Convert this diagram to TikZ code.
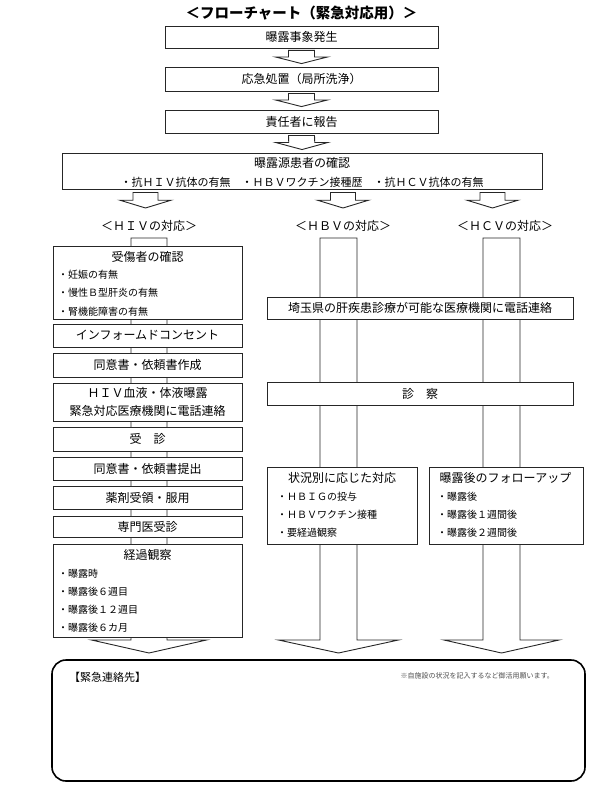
\documentclass[tikz,border=0pt]{standalone}
\usepackage{fontspec}
\setmainfont{Noto Sans CJK JP}
\usetikzlibrary{calc,backgrounds}

\tikzset{
  caja/.style={draw=black!85, line width=0.9pt, fill=white, inner sep=0pt, font=\fontsize{12}{12}\selectfont},
  hueca/.style={draw=black!85, line width=0.9pt, fill=white},
  titulo/.style={inner sep=0pt, font=\fontsize{12}{12}\selectfont},
  lista/.style={anchor=west, inner sep=0pt, font=\fontsize{10}{10}\selectfont},
  marco/.style={draw=black, line width=1.6pt, rounded corners=14pt, inner sep=0pt}
}

% Flecha hueca corta: #1 arriba, #2 punta, #3 medio tronco, #4 media cabeza
\newcommand{\flechahueca}[4]{%
  \coordinate (fa) at #1;
  \coordinate (fb) at #2;
  \coordinate (fm) at ($(fa)!0.5!(fb)$);
  \draw[hueca] ($(fa)+(-#3,0)$) -- ($(fa)+(#3,0)$) -- ($(fm)+(#3,0)$) -- ($(fm)+(#4,0)$) -- (fb)
    -- ($(fm)+(-#4,0)$) -- ($(fm)+(-#3,0)$) -- cycle;
}
% Flecha larga de cada columna (la cabeza mide 13 de alto)
\newcommand{\columna}[4]{%
  \draw[hueca] ($(#1)+(-#3,0)$) -- ($(#1)+(#3,0)$) -- ($(#2)+(#3,-13)$) -- ($(#2)+(#4,-13)$) -- (#2)
    -- ($(#2)+(-#4,-13)$) -- ($(#2)+(-#3,-13)$) -- cycle;
}

\begin{document}
\begin{tikzpicture}[x=1pt,y=-1pt]
\useasboundingbox (0,0) rectangle (605,800);

% Titulo
\node[inner sep=0pt, font=\bfseries\fontsize{14.5}{14.5}\selectfont] (titulo) at (301.5,13) {＜フローチャート（緊急対応用）＞};

% Parte comun de arriba
\node[caja, minimum width=273pt, minimum height=22pt] (suceso) at (301.5,37) {曝露事象発生};
\node[caja, minimum width=273pt, minimum height=24pt] (lavado) at (301.5,79) {応急処置（局所洗浄）};
\node[caja, minimum width=273pt, minimum height=23pt] (aviso) at (301.5,121.5) {責任者に報告};
\node[caja, minimum width=480pt, minimum height=36pt] (fuente) at (302,171) {};
\node[titulo] (fuentet) at (302,163) {曝露源患者の確認};
\node[inner sep=0pt, font=\fontsize{11}{11}\selectfont] (fuentel) at (302,182) {・抗ＨＩＶ抗体の有無　・ＨＢＶワクチン接種歴　・抗ＨＣＶ抗体の有無};

\flechahueca{($(suceso.south)+(0,2)$)}{($(lavado.north)+(0,-3)$)}{13}{26}
\flechahueca{($(lavado.south)+(0,2)$)}{($(aviso.north)+(0,-3)$)}{13}{26}
\flechahueca{($(aviso.south)+(0,2)$)}{($(fuente.north)+(0,-3)$)}{13}{26}

% Los tres caminos
\node[titulo] (hiv) at (149,226) {＜ＨＩＶの対応＞};
\node[titulo] (hbv) at (343,226) {＜ＨＢＶの対応＞};
\node[titulo] (hcv) at (505,226) {＜ＨＣＶの対応＞};

\flechahueca{($(fuente.south -| 145.5,0)+(0,3)$)}{(145.5,208)}{12.5}{25.5}
\flechahueca{($(fuente.south -| 343,0)+(0,3)$)}{(343,208)}{12.5}{25.5}
\flechahueca{($(fuente.south -| 492.5,0)+(0,3)$)}{(492.5,208)}{12.5}{25.5}

% Columna HIV
\node[caja, minimum width=189pt, minimum height=73pt] (herido) at (147.5,282.5) {};
\node[titulo] (heridot) at (147.5,257) {受傷者の確認};
\node[lista] (herido1) at (58,275) {・妊娠の有無};
\node[lista] (herido2) at (58,293) {・慢性Ｂ型肝炎の有無};
\node[lista] (herido3) at (58,312) {・腎機能障害の有無};
\node[caja, minimum width=189pt, minimum height=23pt] (consent) at (147.5,335.5) {インフォームドコンセント};
\node[caja, minimum width=189pt, minimum height=24pt] (docs) at (147.5,365) {同意書・依頼書作成};
\node[caja, minimum width=189pt, minimum height=38pt] (sangre) at (147.5,402) {};
\node[titulo] (sangre1) at (147.5,393) {ＨＩＶ血液・体液曝露};
\node[titulo] (sangre2) at (147.5,411) {緊急対応医療機関に電話連絡};
\node[caja, minimum width=189pt, minimum height=24pt] (consulta) at (147.5,439) {受　診};
\node[caja, minimum width=189pt, minimum height=23pt] (entrega) at (147.5,468.5) {同意書・依頼書提出};
\node[caja, minimum width=189pt, minimum height=23pt] (farmaco) at (147.5,497.5) {薬剤受領・服用};
\node[caja, minimum width=189pt, minimum height=21pt] (especialista) at (147.5,526.5) {専門医受診};
\node[caja, minimum width=189pt, minimum height=93pt] (control) at (147.5,590.5) {};
\node[titulo] (controlt) at (147.5,555) {経過観察};
\node[lista] (control1) at (58,574) {・曝露時};
\node[lista] (control2) at (58,592) {・曝露後６週目};
\node[lista] (control3) at (58,610) {・曝露後１２週目};
\node[lista] (control4) at (58,628) {・曝露後６カ月};

% Columnas HBV y HCV
\node[caja, minimum width=306pt, minimum height=22pt] (saitama) at (420,308) {埼玉県の肝疾患診療が可能な医療機関に電話連絡};
\node[caja, minimum width=306pt, minimum height=23pt] (examen) at (420,393.5) {診　察};
\node[caja, minimum width=150pt, minimum height=77pt] (hbvcaja) at (342,505.5) {};
\node[titulo] (hbvt) at (342,478) {状況別に応じた対応};
\node[lista] (hbv1) at (277,497) {・ＨＢＩＧの投与};
\node[lista] (hbv2) at (277,515) {・ＨＢＶワクチン接種};
\node[lista] (hbv3) at (277,533) {・要経過観察};
\node[caja, minimum width=154pt, minimum height=77pt] (hcvcaja) at (506,505.5) {};
\node[titulo] (hcvt) at (505.5,478) {曝露後のフォローアップ};
\node[lista] (hcv1) at (437,497) {・曝露後};
\node[lista] (hcv2) at (437,515) {・曝露後１週間後};
\node[lista] (hcv3) at (437,533) {・曝露後２週間後};

% Las flechas largas van por debajo de las cajas
\coordinate (hivarriba) at (149,238);
\coordinate (hivpunta) at (149,653);
\coordinate (hbvarriba) at (338.5,238);
\coordinate (hbvpunta) at (338.5,653);
\coordinate (hcvarriba) at (501.5,238);
\coordinate (hcvpunta) at (501.5,653);
\begin{scope}[on background layer]
\columna{hivarriba}{hivpunta}{18}{57.5}
\columna{hbvarriba}{hbvpunta}{18.5}{60}
\columna{hcvarriba}{hcvpunta}{18.5}{57.5}
\end{scope}

% Contacto de urgencia
\node[marco, minimum width=533pt, minimum height=121pt] (contacto) at (318.5,720.5) {};
\node[inner sep=0pt, anchor=west, font=\fontsize{11}{11}\selectfont] (contactot) at (69,677) {【緊急連絡先】};
\node[inner sep=0pt, anchor=east, text=black!70, font=\fontsize{7}{7}\selectfont] (nota) at (554,676) {※自施設の状況を記入するなど御活用願います。};
\end{tikzpicture}
\end{document}
